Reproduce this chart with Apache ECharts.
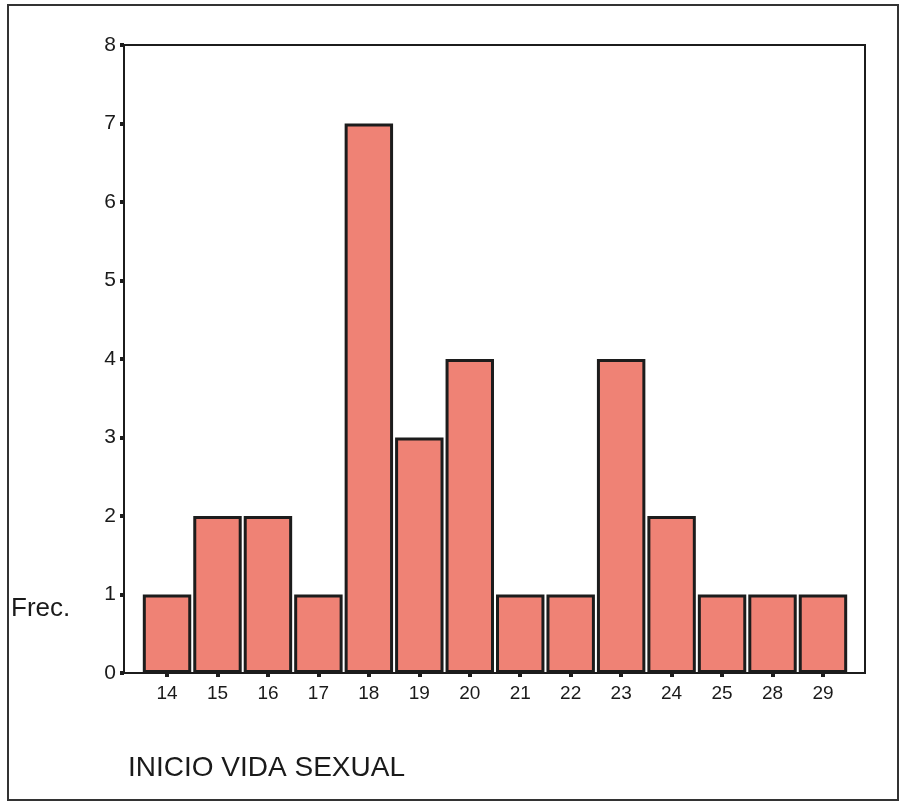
<!DOCTYPE html>
<html>
<head>
<meta charset="utf-8">
<script src="https://cdn.jsdelivr.net/npm/echarts@6/dist/echarts.min.js"></script>
<style>
html,body{margin:0;padding:0;background:#fff;}
#chart{width:901px;height:804px;}
</style>
</head>
<body>
<div id="chart"></div>
<script>
const categories = ['14','15','16','17','18','19','20','21','22','23','24','25','28','29'];
const frequencies = [1,2,2,1,7,3,4,1,1,4,2,1,1,1];
const yTicks = [0,1,2,3,4,5,6,7,8];
const yAxisTitle = 'Frec.';
const xAxisTitle = 'INICIO VIDA SEXUAL';

const chart = echarts.init(document.getElementById('chart'));
const font = 'Arial, "Liberation Sans", sans-serif';
const ink = '#1c1c1c';

chart.setOption({
  animation: false,
  backgroundColor: '#ffffff',
  grid: [
    { left: 124, top: 45, width: 741, height: 628, show: true, borderColor: ink, borderWidth: 2, backgroundColor: 'transparent' },
    { left: 141.8, top: 45, width: 706.4, height: 628 }
  ],
  xAxis: [
    { type: 'value', gridIndex: 0, min: 0, max: 1, show: false },
    {
      type: 'category', gridIndex: 1, data: categories,
      axisLine: { show: false },
      axisTick: { show: true, alignWithLabel: true, length: 4, lineStyle: { color: ink, width: 4 } },
      axisLabel: { color: '#1a1a1a', fontFamily: font, fontSize: 19, margin: 11 },
      splitLine: { show: false }
    }
  ],
  yAxis: [
    {
      type: 'value', gridIndex: 0, min: yTicks[0], max: yTicks[yTicks.length-1], interval: 1,
      axisLine: { show: true, lineStyle: { color: ink, width: 2 } },
      axisTick: { show: true, length: 4, lineStyle: { color: ink, width: 4 } },
      axisLabel: { color: '#1a1a1a', fontFamily: font, fontSize: 21, margin: 8 },
      splitLine: { show: false }
    },
    { type: 'value', gridIndex: 1, min: yTicks[0], max: yTicks[yTicks.length-1], show: false }
  ],
  series: [{
    type: 'bar',
    xAxisIndex: 1, yAxisIndex: 1,
    data: frequencies,
    barCategoryGap: '4%',
    itemStyle: { color: '#ef8275', borderColor: ink, borderWidth: 3 }
  }],
  graphic: [
    { type: 'rect', shape: { x: 8, y: 5, width: 890, height: 795 }, style: { fill: 'none', stroke: '#333', lineWidth: 2 }, z: 0 },
    { type: 'text', left: 11, top: 596, style: { text: yAxisTitle, font: '26px Arial, "Liberation Sans", sans-serif', fill: '#1a1a1a' } },
    { type: 'text', left: 128, top: 754, style: { text: xAxisTitle, font: '28px Arial, "Liberation Sans", sans-serif', fill: '#1a1a1a' } }
  ]
});
</script>
</body>
</html>
